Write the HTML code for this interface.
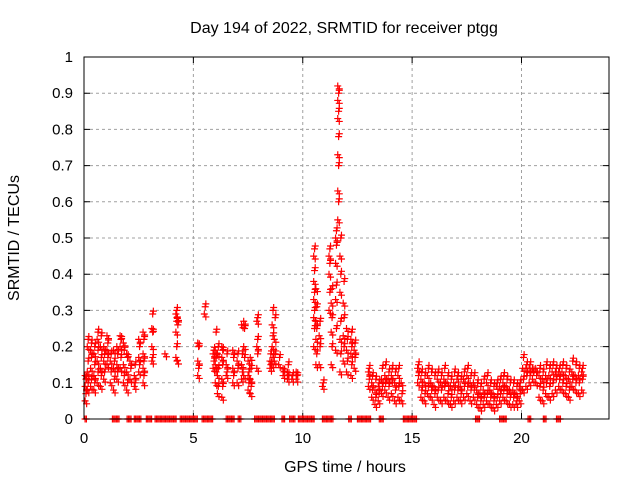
<!DOCTYPE html>
<html><head><meta charset="utf-8"><style>
html,body{margin:0;padding:0;background:#fff;}
svg{display:block;font-family:"Liberation Sans",sans-serif;}
</style></head><body>
<svg id="chart" width="640" height="480" viewBox="0 0 640 480" xmlns="http://www.w3.org/2000/svg">
<text x="344" y="33" font-size="16" text-anchor="middle">Day 194 of 2022, SRMTID for receiver ptgg</text>
<text x="0" y="0" font-size="16" text-anchor="middle" transform="translate(19,238) rotate(-90)">SRMTID / TECUs</text>
<text x="345" y="472" font-size="16" text-anchor="middle">GPS time / hours</text>
<g id="grid"></g>
<g id="ticks"></g>
<g id="marks"></g>
<rect x="84" y="57" width="525" height="362" fill="none" stroke="#000" stroke-width="1"/>
</svg>
<script>
const xTicks = [0,5,10,15,20];
const yTicks = [0,0.1,0.2,0.3,0.4,0.5,0.6,0.7,0.8,0.9,1];
const yTickLabels = ["0","0.1","0.2","0.3","0.4","0.5","0.6","0.7","0.8","0.9","1"];
const clusterTimes = [0.05,0.15,0.3,0.45,0.6,0.75,0.9,1.05,1.2,1.35,1.5,1.65,1.8,1.95,2.1,2.3,2.5,2.7,3.1,3.7,4.2,4.25,5.2,5.5,5.9,6.0,6.1,6.3,6.5,6.8,7.0,7.2,7.3,7.5,7.6,7.9,8.5,8.6,8.7,8.9,9.1,9.3,9.5,9.7,
10.5,10.6,10.75,10.9,11.2,11.3,11.5,11.6,11.7,11.85,12.0,12.2,12.35,
13.0,13.15,13.3,13.45,13.6,13.75,13.9,14.05,14.2,14.35,14.5,15.25,15.4,15.55,15.7,15.85,16.0,16.15,16.3,16.45,16.6,16.75,16.9,17.05,17.2,17.35,17.5,17.65,17.8,17.95,18.1,18.25,18.4,18.55,18.7,18.85,19.0,19.15,19.3,19.45,19.6,19.75,19.9,20.05,20.2,20.35,20.5,20.65,20.8,20.95,21.1,21.25,21.4,21.55,21.7,21.85,22.0,22.15,22.3,22.45,22.6,22.75];
const clusterValues = [
[0.05,0.07,0.09,0.11,0.12],[0.08,0.1,0.13,0.16,0.2,0.22],[0.09,0.11,0.14,0.17,0.19,0.21],[0.08,0.1,0.12,0.15,0.18,0.2],[0.1,0.13,0.16,0.19,0.22,0.24],[0.09,0.12,0.14,0.17,0.2,0.23],[0.11,0.13,0.16,0.18,0.2],[0.15,0.17,0.19,0.21,0.23],[0.1,0.13,0.16,0.18],[0.08,0.11,0.14,0.16,0.19],[0.11,0.13,0.15,0.18,0.2],[0.14,0.17,0.2,0.22,0.23],[0.1,0.12,0.15,0.19,0.21],[0.08,0.1,0.13,0.17,0.18],[0.11,0.14,0.16],[0.09,0.1,0.12,0.15],[0.13,0.15,0.17,0.2,0.22],[0.1,0.12,0.14,0.16,0.18,0.22,0.24],[0.16,0.17,0.2,0.24,0.25,0.29],[0.18],[0.17,0.2,0.24,0.27,0.29,0.3],[0.16,0.26,0.28],[0.12,0.14,0.16,0.2,0.21],[0.29,0.31],[0.14,0.16,0.18,0.19],[0.1,0.13,0.15,0.17,0.19,0.24],[0.07,0.09,0.12,0.14,0.18,0.2],[0.06,0.09,0.11,0.15,0.17,0.19,0.2],[0.12,0.13,0.15,0.18],[0.1,0.12,0.14,0.17,0.19],[0.1,0.14,0.16,0.18],[0.11,0.13,0.15,0.18,0.26],[0.12,0.17,0.2,0.25,0.27],[0.08,0.1,0.12,0.13,0.16],[0.07,0.09,0.11,0.14,0.17],[0.14,0.18,0.2,0.22,0.27,0.28],[0.14,0.15,0.16,0.18],[0.15,0.17,0.2,0.23,0.26,0.3],[0.16,0.18,0.22,0.28],[0.15,0.17],[0.12,0.13,0.14],[0.11,0.12,0.13,0.15],[0.11,0.12],[0.11,0.12,0.13],
[0.2,0.25,0.28,0.3,0.33,0.35,0.38,0.41,0.45,0.47],[0.15,0.18,0.22,0.25,0.27,0.31,0.36],[0.15,0.2,0.23,0.27],[0.09,0.1],[0.3,0.35,0.4,0.43,0.45,0.47],[0.15,0.2,0.24,0.28,0.32,0.36],[0.19,0.25,0.33,0.37,0.43,0.48,0.5,0.52],[0.55,0.6,0.63,0.7,0.73,0.78,0.83,0.85,0.88,0.9,0.92],[0.13,0.18,0.22,0.27,0.35,0.4,0.45,0.5],[0.16,0.2,0.23,0.28,0.32,0.38],[0.13,0.16,0.19,0.22,0.25],[0.12,0.15,0.18,0.2,0.22,0.24],[0.14,0.17,0.19,0.21],
[0.09,0.11,0.13,0.14],[0.06,0.08,0.1,0.12],[0.04,0.06,0.08,0.11],[0.05,0.07,0.09,0.1],[0.07,0.09,0.11,0.14],[0.08,0.1,0.12,0.15],[0.06,0.09,0.11,0.13],[0.07,0.1,0.12,0.14],[0.05,0.08,0.1,0.13],[0.06,0.09,0.12,0.14],[0.05,0.07,0.1],
[0.1,0.12,0.14,0.15],[0.06,0.08,0.11,0.13],[0.05,0.07,0.1,0.12],[0.07,0.09,0.12,0.14],[0.06,0.08,0.1,0.13],[0.04,0.07,0.09,0.12],[0.06,0.08,0.11,0.13],[0.05,0.08,0.1,0.12],[0.06,0.09,0.11,0.14],[0.05,0.07,0.1,0.12],[0.04,0.06,0.09,0.11],[0.05,0.08,0.1,0.13],[0.06,0.08,0.11,0.12],[0.05,0.07,0.09,0.11],[0.06,0.09,0.11,0.13],[0.07,0.09,0.12,0.14],[0.05,0.08,0.1,0.12],[0.06,0.08,0.1,0.12],[0.04,0.06,0.08,0.1],[0.03,0.05,0.07,0.09],[0.04,0.06,0.08,0.11],[0.05,0.07,0.1,0.12],[0.04,0.06,0.08,0.1],[0.03,0.05,0.07,0.09],[0.04,0.06,0.09,0.1],[0.05,0.07,0.09,0.11],[0.06,0.08,0.1,0.12],[0.05,0.07,0.09,0.11],[0.04,0.06,0.08,0.1],[0.04,0.06,0.08,0.1],[0.04,0.05,0.07,0.09],[0.05,0.07,0.09,0.1],[0.08,0.11,0.14,0.17],[0.09,0.12,0.14,0.15],[0.1,0.12,0.14,0.15],[0.11,0.13,0.14],[0.1,0.12,0.14],[0.06,0.09,0.12,0.14],[0.05,0.08,0.11,0.13],[0.07,0.1,0.12,0.15],[0.06,0.09,0.12,0.14],[0.07,0.1,0.13,0.15],[0.08,0.11,0.13,0.14],[0.09,0.11,0.13,0.14],
[0.08,0.1,0.13,0.15],[0.07,0.09,0.12,0.14],[0.06,0.08,0.11,0.13],[0.09,0.11,0.13,0.16],[0.08,0.1,0.12,0.15],[0.07,0.1,0.12,0.14],[0.08,0.11,0.13,0.14],[0.1,0.12,0.14,0.15]];
const zeroRanges = [[0.05,0.15],[1.3,1.65],[1.97,2.2],[2.3,2.6],[2.85,3.1],[3.25,4.25],[4.4,5.2],[5.4,5.9],[6.5,6.9],[7.05,7.2],[7.8,8.35],[8.4,8.7],[9.05,9.2],[9.4,9.65],[9.8,10.55],[10.9,11.4],[12.1,12.25],[12.5,13.1],[13.5,13.7],[14.6,15.2],[17.9,18.1],[19.0,19.35],[20.3,20.45],[21.0,21.15],[21.6,21.8]];

const NS="http://www.w3.org/2000/svg";
const X0=84,X1=609,Y0=419,Y1=57,XMAX=24;
function xs(h){return X0+(h/XMAX)*(X1-X0);}
function ys(v){return Y0-v*(Y0-Y1);}
const grid=document.getElementById('grid'),ticks=document.getElementById('ticks'),marks=document.getElementById('marks');
function mk(tag,attrs,parent){const e=document.createElementNS(NS,tag);for(const k in attrs)e.setAttribute(k,attrs[k]);parent.appendChild(e);return e;}
xTicks.forEach(t=>{
  const x=xs(t);
  if(t>0){const g=mk('line',{x1:x,x2:x,y1:Y0,y2:Y1,stroke:'#a0a0a0','stroke-dasharray':'3,3'},grid);
  
  }
  mk('path',{d:`M${x} ${Y0}v-6M${x} ${Y1}v6`,stroke:'#000'},ticks);
  const l=mk('text',{x:x,y:443,'font-size':15,'text-anchor':'middle'},ticks);
  l.textContent=String(t);
  
  
});
yTicks.forEach((t,i)=>{
  const y=ys(t);
  if(t>0&&t<1){const g=mk('line',{x1:X0,x2:X1,y1:y,y2:y,stroke:'#a0a0a0','stroke-dasharray':'3,3'},grid);
  
  }
  mk('path',{d:`M${X0} ${y}h6M${X1} ${y}h-6`,stroke:'#000'},ticks);
  const l=mk('text',{x:73,y:y+5,'font-size':15,'text-anchor':'end'},ticks);
  l.textContent=yTickLabels[i];
  
  
});
function cross(h,v,color){
  const x=xs(h),y=ys(v);
  const p=mk('path',{d:`M${x-3.5} ${y}h7M${x} ${y-3.5}v7`,stroke:color,'stroke-width':1.2},marks);
  
  
}
const n=Math.min(clusterTimes.length,clusterValues.length);
for(let i=0;i<n;i++){
  const t=clusterTimes[i];
  clusterValues[i].forEach((v,j)=>{cross(t+(j%2)*0.04,v,'#ff0000');cross(t+0.07,v+((j%2)?0.008:-0.008),'#ff0000');});
}
zeroRanges.forEach(r=>{for(let h=r[0];h<=r[1]+1e-6;h+=0.06)cross(h,0,'#ff0000');});
</script>
</body></html>
